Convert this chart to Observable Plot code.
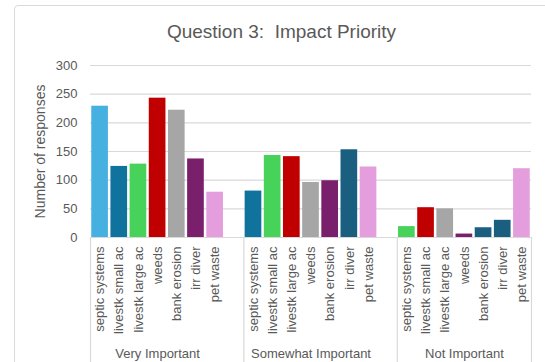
<!DOCTYPE html>
<html>
<head>
<meta charset="utf-8">
<script src="https://cdn.jsdelivr.net/npm/d3@7"></script>
<script src="https://cdn.jsdelivr.net/npm/@observablehq/plot@0.6"></script>
<style>
  html, body { margin: 0; padding: 0; background: #fff; }
  body { width: 545px; height: 362px; overflow: hidden; position: relative; font-family: "Liberation Sans", Arial, sans-serif; }
  #frame { position: absolute; left: 14px; top: 5px; width: 560px; height: 400px; border: 1px solid #d9d9d9; border-radius: 4px; box-sizing: border-box; }
  #title { position: absolute; left: 0; top: 22px; width: 563px; text-align: center; font-size: 19px; line-height: 19px; color: #595959; white-space: pre; }
  #chart { position: absolute; left: 0; top: 50px; }
</style>
</head>
<body>
<div id="frame"></div>
<div id="title">Question 3:  Impact Priority</div>
<div id="chart"></div>
<script>
// Survey responses per impact, grouped by priority level
const groups = ["Very Important", "Somewhat Important", "Not Important"];
const categories = ["septic systems", "livestk small ac", "livestk large ac", "weeds", "bank erosion", "irr diver", "pet waste"];
const veryImportant = [229, 124, 128, 243, 222, 137, 79];
const somewhatImportant = [81, 143, 141, 96, 99, 153, 123];
const notImportant = [19, 52, 50, 6, 17, 30, 120];
const yTicks = [0, 50, 100, 150, 200, 250, 300];

// Bar fills, one list per priority group
const veryColors = ["#46b1e1", "#0f739e", "#47d35a", "#c00000", "#a6a6a6", "#7a1f6b", "#e59edd"];
const somewhatColors = ["#0f739e", "#47d35a", "#c00000", "#a6a6a6", "#7a1f6b", "#1a5e80", "#e59edd"];
const notColors = ["#47d35a", "#c00000", "#a6a6a6", "#7a1f6b", "#1a5e80", "#1a5e80", "#e59edd"];

const series = [veryImportant, somewhatImportant, notImportant];
const palettes = [veryColors, somewhatColors, notColors];

// Each group takes one slot per category, with an empty spacer slot between groups
const n = categories.length;
const rows = groups.flatMap((group, gi) =>
  series[gi].map((value, i) => ({
    group,
    category: categories[i],
    value,
    slot: gi * (n + 1) + i,
    color: palettes[gi][i]
  }))
);
const slotCount = groups.length * (n + 1) - 1;
const groupRows = groups.map((group, gi) => ({group, center: gi * (n + 1) + n / 2}));
const dividers = [...groups.map((g, gi) => gi * (n + 1)), slotCount];

const textColor = "#595959";
const gridColor = "#d9d9d9";
const marginBottom = 125;

const chart = Plot.plot({
  width: 545,
  height: 312,
  marginTop: 15,
  marginRight: 14,
  marginBottom,
  marginLeft: 90,
  style: {fontFamily: "'Liberation Sans', Arial, sans-serif", color: textColor, background: "transparent"},
  x: {type: "linear", domain: [0, slotCount], axis: null},
  y: {domain: [0, 300], axis: null},
  marks: [
    Plot.gridY(yTicks, {stroke: gridColor, strokeOpacity: 1, strokeWidth: 1.2}),
    Plot.axisY(yTicks, {tickSize: 0, tickPadding: 13, fontSize: 13, label: null, fill: textColor}),
    Plot.text(["Number of responses"], {
      frameAnchor: "left", textAnchor: "middle", rotate: -90, dx: -50, fontSize: 14, fill: textColor
    }),
    Plot.rectY(rows, {
      x1: "slot", x2: d => d.slot + 1, y: "value",
      fill: "color", insetLeft: 1.25, insetRight: 1.25
    }),
    Plot.ruleX(dividers, {
      x: d => d, y1: 0, y2: 0, insetBottom: -marginBottom, stroke: gridColor, strokeWidth: 1.2
    }),
    Plot.text(rows, {
      x: d => d.slot + 0.5, y: 0, text: "category", rotate: -90,
      textAnchor: "end", lineAnchor: "middle", dy: 9, fontSize: 13, fill: textColor
    }),
    Plot.text(groupRows, {
      x: "center", y: 0, text: "group", dy: 116, fontSize: 13, fill: textColor
    })
  ]
});
document.getElementById("chart").append(chart);
</script>
</body>
</html>
